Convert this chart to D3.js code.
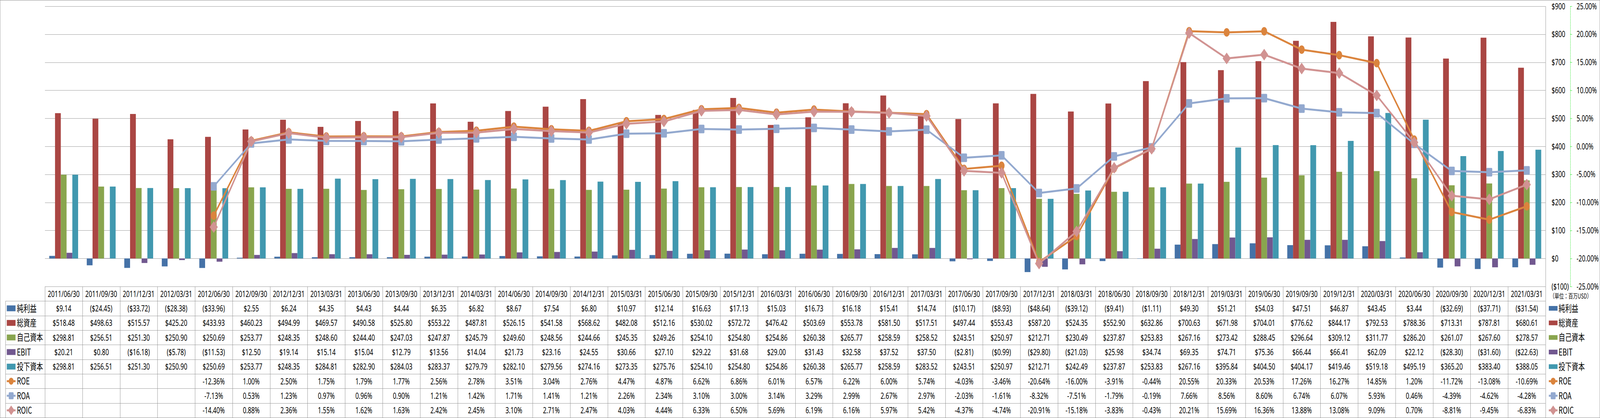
<!DOCTYPE html>
<html>
<head>
<meta charset="utf-8">
<script src="https://cdn.jsdelivr.net/npm/d3@7"></script>
<style>
  html, body { margin: 0; padding: 0; background: #fff; overflow: hidden; }
  svg { display: block; }
  text { font-family: "Noto Sans", "Noto Sans CJK JP", sans-serif; fill: #000; }
  .jp { font-family: "Noto Sans CJK JP", sans-serif; }
</style>
</head>
<body>
<div id="chart"></div>
<script>
// ---- data (百万USD / %) ----
var dates = ["2011/06/30", "2011/09/30", "2011/12/31", "2012/03/31",
  "2012/06/30", "2012/09/30", "2012/12/31", "2013/03/31",
  "2013/06/30", "2013/09/30", "2013/12/31", "2014/03/31",
  "2014/06/30", "2014/09/30", "2014/12/31", "2015/03/31",
  "2015/06/30", "2015/09/30", "2015/12/31", "2016/03/31",
  "2016/06/30", "2016/09/30", "2016/12/31", "2017/03/31",
  "2017/06/30", "2017/09/30", "2017/12/31", "2018/03/31",
  "2018/06/30", "2018/09/30", "2018/12/31", "2019/03/31",
  "2019/06/30", "2019/09/30", "2019/12/31", "2020/03/31",
  "2020/06/30", "2020/09/30", "2020/12/31", "2021/03/31"];

var netIncome = [9.14, -24.45, -33.72, -28.38, -33.96, 2.55, 6.24, 4.35, 4.43, 4.44,
  6.35, 6.82, 8.67, 7.54, 6.80, 10.97, 12.14, 16.63, 17.13, 15.03,
  16.73, 16.18, 15.41, 14.74, -10.17, -8.93, -48.64, -39.12, -9.41, -1.11,
  49.30, 51.21, 54.03, 47.51, 46.87, 43.45, 3.44, -32.69, -37.71, -31.54];

var totalAssets = [518.48, 498.63, 515.57, 425.20, 433.93, 460.23, 494.99, 469.57, 490.58, 525.80,
  553.22, 487.81, 526.15, 541.58, 568.62, 482.08, 512.16, 530.02, 572.72, 476.42,
  503.69, 553.78, 581.50, 517.51, 497.44, 553.43, 587.20, 524.35, 552.90, 632.86,
  700.63, 671.98, 704.01, 776.62, 844.17, 792.53, 788.36, 713.31, 787.81, 680.61];

var equity = [298.81, 256.51, 251.30, 250.90, 250.69, 253.77, 248.35, 248.60, 244.40, 247.03,
  247.87, 245.79, 249.60, 248.56, 244.66, 245.35, 249.26, 254.10, 254.80, 254.86,
  260.38, 265.77, 258.59, 258.52, 243.51, 250.97, 212.71, 230.49, 237.87, 253.83,
  267.16, 273.42, 288.45, 296.64, 309.12, 311.77, 286.20, 261.07, 267.60, 278.57];

var ebit = [20.21, 0.80, -16.18, -5.78, -11.53, 12.50, 19.14, 15.14, 15.04, 12.79,
  13.56, 14.04, 21.73, 23.16, 24.55, 30.66, 27.10, 29.22, 31.68, 29.00,
  31.43, 32.58, 37.52, 37.50, -2.81, -0.99, -29.80, -21.03, 25.98, 34.74,
  69.35, 74.71, 75.36, 66.44, 66.41, 62.09, 22.12, -28.30, -31.60, -22.63];

var investedCapital = [298.81, 256.51, 251.30, 250.90, 250.69, 253.77, 248.35, 284.81, 282.90, 284.03,
  283.37, 279.79, 282.10, 279.56, 274.16, 273.35, 275.76, 254.10, 254.80, 254.86,
  260.38, 265.77, 258.59, 283.52, 243.51, 250.97, 212.71, 242.49, 237.87, 253.83,
  267.16, 395.84, 404.50, 404.17, 419.46, 519.18, 495.19, 365.20, 383.40, 388.05];

var roe = [null, null, null, null, -12.36, 1.00, 2.50, 1.75, 1.79, 1.77,
  2.56, 2.78, 3.51, 3.04, 2.76, 4.47, 4.87, 6.62, 6.86, 6.01,
  6.57, 6.22, 6.00, 5.74, -4.03, -3.46, -20.64, -16.00, -3.91, -0.44,
  20.55, 20.33, 20.53, 17.26, 16.27, 14.85, 1.20, -11.72, -13.08, -10.69];

var roa = [null, null, null, null, -7.13, 0.53, 1.23, 0.97, 0.96, 0.90,
  1.21, 1.42, 1.71, 1.41, 1.21, 2.26, 2.34, 3.10, 3.00, 3.14,
  3.29, 2.99, 2.67, 2.97, -2.03, -1.61, -8.32, -7.51, -1.79, -0.19,
  7.66, 8.56, 8.60, 6.74, 6.07, 5.93, 0.46, -4.39, -4.62, -4.28];

var roic = [null, null, null, null, -14.40, 0.88, 2.36, 1.55, 1.62, 1.63,
  2.42, 2.45, 3.10, 2.71, 2.47, 4.03, 4.44, 6.33, 6.50, 5.69,
  6.19, 6.16, 5.97, 5.42, -4.37, -4.74, -20.91, -15.18, -3.83, -0.43,
  20.21, 15.69, 16.36, 13.88, 13.08, 9.09, 0.70, -8.81, -9.45, -6.83];

var moneyTicks = [900, 800, 700, 600, 500, 400, 300, 200, 100, 0, -100];
var pctTicks = [25, 20, 15, 10, 5, 0, -5, -10, -15, -20, -25];
var unitLabel = "（単位：百万USD）";

var barSeries = [
  {name: "純利益", values: netIncome, color: "#4572A7"},
  {name: "総資産", values: totalAssets, color: "#AA4643"},
  {name: "自己資本", values: equity, color: "#89A54E"},
  {name: "EBIT", values: ebit, color: "#71588F"},
  {name: "投下資本", values: investedCapital, color: "#4198AF"}
];
var lineSeries = [
  {name: "ROE", values: roe, color: "#DB843D", marker: "circle"},
  {name: "ROA", values: roa, color: "#93A9CF", marker: "square"},
  {name: "ROIC", values: roic, color: "#D19392", marker: "diamond"}
];

// ---- layout ----
var svgWidth = 5876, svgHeight = 1071;
var plotLeft = 165, plotRight = 5676, plotTop = 16, plotBottom = 734;
var rowH = (1070 - plotBottom) / 9;
var gridColor = "#8c8c8c";

// viewBox so the whole chart always fits the window
var svg = d3.select("#chart").append("svg")
  .attr("viewBox", "0 0 " + svgWidth + " " + svgHeight)
  .attr("preserveAspectRatio", "none")
  .style("width", "100vw")
  .style("height", "100vh");

// outer frame
svg.append("rect")
  .attr("x", 0.5).attr("y", 0.5)
  .attr("width", svgWidth - 1).attr("height", svgHeight - 1)
  .attr("fill", "none").attr("stroke", gridColor);

var x = d3.scaleBand().domain(dates).range([plotLeft, plotRight]);
var xi = d3.scaleBand().domain(barSeries.map(function(s) { return s.name; }))
  .range([0, x.bandwidth()]).paddingOuter(0.75);
var y = d3.scaleLinear().domain([-100, 900]).range([plotBottom, plotTop]);
var yp = d3.scaleLinear().domain([-25, 25]).range([plotBottom, plotTop]);

function fmtMoney(v) {
  return v < 0 ? "($" + (-v).toFixed(2) + ")" : "$" + v.toFixed(2);
}
function fmtPct(v) {
  return v == null ? "" : v.toFixed(2) + "%";
}

// gridlines
svg.append("g").selectAll("line")
  .data(moneyTicks.filter(function(d) { return d > -100; }))
  .enter().append("line")
  .attr("x1", plotLeft).attr("x2", plotRight)
  .attr("y1", function(d) { return Math.round(y(d)) + 0.5; })
  .attr("y2", function(d) { return Math.round(y(d)) + 0.5; })
  .attr("stroke", gridColor).attr("stroke-width", 1);

svg.append("line")
  .attr("x1", plotRight + 0.5).attr("x2", plotRight + 0.5)
  .attr("y1", plotTop).attr("y2", plotBottom)
  .attr("stroke", gridColor);

// bars
var groups = svg.append("g").selectAll("g")
  .data(dates)
  .enter().append("g")
  .attr("transform", function(d) { return "translate(" + x(d) + ",0)"; });

groups.selectAll("rect")
  .data(function(d, i) {
    return barSeries.map(function(s) { return {key: s.name, value: s.values[i], color: s.color}; });
  })
  .enter().append("rect")
  .attr("x", function(d) { return xi(d.key); })
  .attr("width", xi.bandwidth())
  .attr("y", function(d) { return y(Math.max(0, d.value)); })
  .attr("height", function(d) { return Math.abs(y(d.value) - y(0)); })
  .attr("fill", function(d) { return d.color; });

// markers
function drawMarker(g, type, color, cx, cy, size) {
  if (type === "circle") {
    g.append("circle").attr("cx", cx).attr("cy", cy).attr("r", size / 2).attr("fill", color);
  } else if (type === "square") {
    g.append("rect").attr("x", cx - size / 2).attr("y", cy - size / 2)
      .attr("width", size).attr("height", size).attr("rx", 3).attr("fill", color);
  } else {
    var h = size * 0.68;
    g.append("path")
      .attr("d", "M" + cx + "," + (cy - h) + "L" + (cx + h) + "," + cy + "L" + cx + "," + (cy + h) + "L" + (cx - h) + "," + cy + "Z")
      .attr("fill", color);
  }
}

var line = d3.line()
  .defined(function(d) { return d != null; })
  .x(function(d, i) { return x(dates[i]) + x.bandwidth() / 2; })
  .y(function(d) { return yp(d); });

lineSeries.forEach(function(s) {
  var g = svg.append("g");
  g.append("path")
    .datum(s.values)
    .attr("d", line)
    .attr("fill", "none")
    .attr("stroke", s.color)
    .attr("stroke-width", 5)
    .attr("stroke-linejoin", "round");
  s.values.forEach(function(v, i) {
    if (v == null) return;
    drawMarker(g, s.marker, s.color, x(dates[i]) + x.bandwidth() / 2, yp(v), 22);
  });
});

// right axes
var axisMoney = svg.append("g")
  .attr("transform", "translate(5698,0)")
  .call(d3.axisRight(y).tickValues(moneyTicks).tickSize(0).tickPadding(0)
    .tickFormat(function(d) { return d < 0 ? "($" + (-d) + ")" : "$" + d; }));
axisMoney.select(".domain").remove();
axisMoney.selectAll("text")
  .attr("font-size", 22)
  .attr("font-family", "Noto Sans")
  .attr("fill", function(d) { return d < 0 ? "#ff0000" : "#000"; });

var axisPct = svg.append("g")
  .attr("transform", "translate(5767,0)")
  .call(d3.axisRight(yp).tickValues(pctTicks).tickSize(8).tickSizeOuter(0).tickPadding(15)
    .tickFormat(function(d) { return d.toFixed(2) + "%"; }));
axisPct.select(".domain")
  .attr("stroke", "#00e000").attr("stroke-width", 1.5).attr("stroke-dasharray", "2,2");
axisPct.selectAll(".tick line")
  .attr("stroke", "#00e000").attr("stroke-width", 1.5).attr("stroke-dasharray", "2,2");
axisPct.selectAll("text")
  .attr("font-size", 22)
  .attr("font-family", "Noto Sans")
  .attr("fill", function(d) { return d < 0 ? "#ff0000" : "#000"; });

// ---- data table ----
var table = svg.append("g");
var rows = barSeries.map(function(s) { return {name: s.name, values: s.values, color: s.color, fmt: fmtMoney, kind: "bar"}; })
  .concat(lineSeries.map(function(s) { return {name: s.name, values: s.values, color: s.color, fmt: fmtPct, kind: "line", marker: s.marker}; }));

function rowY(r) { return plotBottom + r * rowH; }

// horizontal rules
table.append("line")
  .attr("x1", plotLeft).attr("x2", plotRight)
  .attr("y1", plotBottom + 0.5).attr("y2", plotBottom + 0.5)
  .attr("stroke", gridColor);
d3.range(1, 10).forEach(function(r) {
  table.append("line")
    .attr("x1", 20).attr("x2", plotRight)
    .attr("y1", Math.round(rowY(r)) + 0.5).attr("y2", Math.round(rowY(r)) + 0.5)
    .attr("stroke", gridColor);
});
// vertical rules
table.append("line")
  .attr("x1", 20.5).attr("x2", 20.5)
  .attr("y1", rowY(1)).attr("y2", rowY(9))
  .attr("stroke", gridColor);
dates.concat(["end"]).forEach(function(d, i) {
  var xx = i < dates.length ? x(d) : plotRight;
  table.append("line")
    .attr("x1", Math.round(xx) + 0.5).attr("x2", Math.round(xx) + 0.5)
    .attr("y1", plotBottom).attr("y2", rowY(9))
    .attr("stroke", gridColor);
});

// date header
table.selectAll(".date")
  .data(dates)
  .enter().append("text")
  .attr("x", function(d) { return x(d) + x.bandwidth() / 2; })
  .attr("y", rowY(0) + rowH / 2)
  .attr("dy", "0.36em")
  .attr("text-anchor", "middle")
  .attr("font-size", 22)
  .text(function(d) { return d; });

// cells
rows.forEach(function(row, r) {
  var cy = rowY(r + 1) + rowH / 2;
  table.append("g").selectAll("text")
    .data(row.values)
    .enter().append("text")
    .attr("x", function(d, i) { return x(dates[i]) + x.bandwidth() / 2; })
    .attr("y", cy)
    .attr("dy", "0.36em")
    .attr("text-anchor", "middle")
    .attr("font-size", 22)
    .text(function(d) { return row.fmt(d); });
});

// legend keys (left in table, right outside)
function legendKey(g, row, x0, cy, w, h) {
  if (row.kind === "bar") {
    g.append("rect").attr("x", x0).attr("y", cy - h / 2).attr("width", w).attr("height", h).attr("fill", row.color);
  } else {
    g.append("line").attr("x1", x0).attr("x2", x0 + w).attr("y1", cy).attr("y2", cy)
      .attr("stroke", row.color).attr("stroke-width", 5);
    drawMarker(g, row.marker, row.color, x0 + w / 2, cy, 18);
  }
}

rows.forEach(function(row, r) {
  var cy = rowY(r + 1) + rowH / 2;
  legendKey(table, row, 25, cy, 32, 15);
  table.append("text")
    .attr("class", "jp")
    .attr("x", 62).attr("y", cy).attr("dy", "0.36em")
    .attr("font-size", 24)
    .text(row.name);

  legendKey(svg, row, 5688, cy, 32, 12);
  svg.append("text")
    .attr("class", "jp")
    .attr("x", 5724).attr("y", cy).attr("dy", "0.36em")
    .attr("font-size", 24)
    .text(row.name);
});

svg.append("text")
  .attr("class", "jp")
  .attr("x", 5692).attr("y", rowY(0) + rowH / 2 + 6).attr("dy", "0.36em")
  .attr("font-size", 17)
  .text(unitLabel);
</script>
</body>
</html>
